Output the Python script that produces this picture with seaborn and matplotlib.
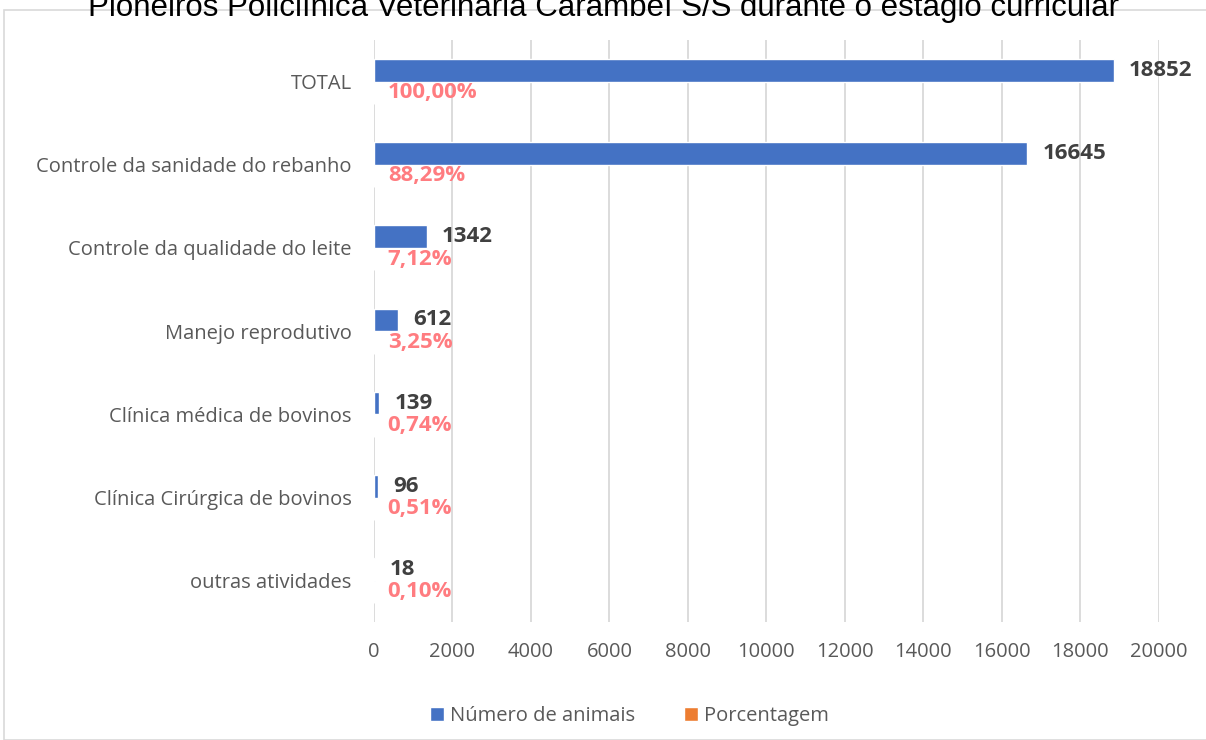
import pandas as pd
import matplotlib.pyplot as plt
import matplotlib.patches as mpatches
import seaborn as sns

# Data
atividades = ['TOTAL', 'Controle da sanidade do rebanho', 'Controle da qualidade do leite',
              'Manejo reprodutivo', 'Clínica médica de bovinos',
              'Clínica Cirúrgica de bovinos', 'outras atividades']
num_animais = [18852, 16645, 1342, 612, 139, 96, 18]
porcentagem = [1.0, 0.8829, 0.0712, 0.0325, 0.0074, 0.0051, 0.0010]
series = ['Número de animais', 'Porcentagem']
xticks = list(range(0, 20001, 2000))

df = pd.DataFrame({
    'atividade': atividades * 2,
    'serie': [series[0]] * len(atividades) + [series[1]] * len(atividades),
    'valor': num_animais + porcentagem,
})

sns.set_theme(style='white')
plt.rcParams['font.family'] = ['Open Sans', 'DejaVu Sans']

fig = plt.figure(figsize=(12.06, 7.4), dpi=100)
ax = fig.add_axes([0.310, 0.159, 0.651, 0.787])

sns.barplot(data=df, y='atividade', x='valor', hue='serie', orient='h',
            palette=['#4472C4', '#ED7D31'], saturation=1, width=0.54, ax=ax, legend=True)

ax.set_xlim(0, 20000)
ax.set_ylim(6.5, -0.5)
ax.set_xticks(xticks)
ax.xaxis.grid(True, color='#D9D9D9', linewidth=1.3)
ax.set_axisbelow(True)
for s in ax.spines.values():
    s.set_visible(False)
ax.tick_params(axis='both', length=0, labelsize=14.5, labelcolor='#595959')
ax.tick_params(axis='y', pad=16)
ax.tick_params(axis='x', pad=14)
ax.set_xlabel('')
ax.set_ylabel('')

# value labels
ax.bar_label(ax.containers[0], labels=[str(v) for v in num_animais], padding=11,
             fontsize=16, fontweight='bold', color='#404040')
ax.bar_label(ax.containers[1], labels=[f'{p * 100:.2f}%'.replace('.', ',') for p in porcentagem],
             padding=10, fontsize=16, fontweight='bold', color='#FF7C80')

# legend at the bottom
handles, labels = ax.get_legend_handles_labels()
ax.get_legend().remove()
fig.legend(handles, labels, loc='center', bbox_to_anchor=(0.522, 1 - 716 / 740), ncol=2,
           frameon=False, fontsize=14.5, handlelength=0.7, handleheight=0.7,
           handletextpad=0.3, columnspacing=2.4, labelcolor='#595959')

# title cut at the top, as in the reference
fig.text(0.5, 1 - 8 / 740,
         'Pioneiros Policlínica Veterinária Carambeí S/S durante o estágio curricular',
         ha='center', va='center', fontsize=22.5, color='#000000', family='Liberation Sans')

# chart border
fig.patches.append(mpatches.Rectangle((4 / 1206, 0), 1.0, 1 - 10 / 740, transform=fig.transFigure,
                                      fill=False, edgecolor='#D9D9D9', linewidth=1.2))

fig.savefig('out.png', dpi=100)
